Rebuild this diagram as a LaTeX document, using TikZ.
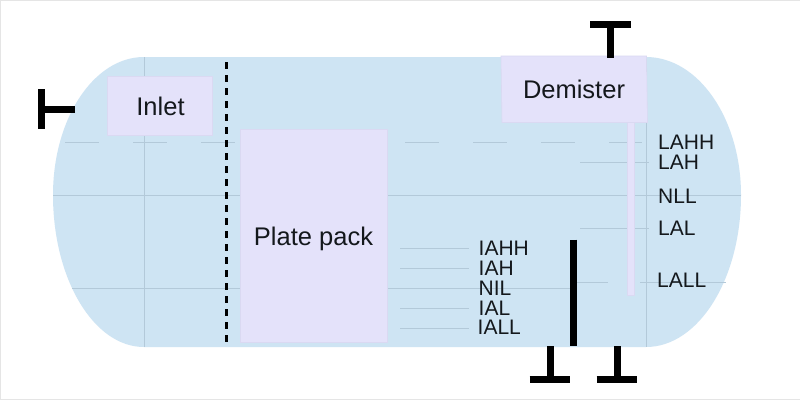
\documentclass[tikz,border=0pt]{standalone}
\usepackage{fontspec}
\setmainfont{Liberation Sans}
\definecolor{vessel}{HTML}{CEE4F3}
\definecolor{boxfill}{HTML}{E4E2FA}
\definecolor{boxedge}{HTML}{DAD9F2}
\definecolor{thin}{HTML}{B3C9D9}
\definecolor{txt}{HTML}{14181C}
\tikzset{x=1pt,y=-1pt,
 pack/.style={fill=boxfill,draw=boxedge,line width=.6pt},
 lvl/.style={draw=thin,line width=.7pt},
 pipe/.style={draw=black,line width=7pt},
 tag/.style={font=\fontsize{21}{21}\selectfont,text=txt,inner sep=0pt,anchor=base west},
 big/.style={font=\fontsize{25.5}{25.5}\selectfont,text=txt,inner sep=0pt,anchor=base}}
\begin{document}
\begin{tikzpicture}
\useasboundingbox (0,0) rectangle (800,400);
\fill[white] (0,0) rectangle (800,400);
\draw[draw=black!10,line width=.8pt] (.4,400) -- (.4,.4) -- (800,.4);
\draw[draw=black!10,line width=.8pt] (0,399.5) -- (800,399.5);
% vessel
\fill[vessel] (144,57) -- (646,57)
  .. controls (698.5,57) and (741,118.8) .. (741,195)
  .. controls (741,279) and (698.5,347) .. (646,347)
  -- (144,347)
  .. controls (93.7,347) and (53,279) .. (53,195)
  .. controls (53,118.8) and (93.7,57) .. (144,57) -- cycle;
% level lines
\coordinate (vtl) at (144.5,57); \coordinate (vbl) at (144.5,347);
\coordinate (vtr) at (646.5,57); \coordinate (vbr) at (646.5,347);
\draw[lvl] (vtl) -- (vbl);
\draw[lvl] (vtr) -- (vbr);
\coordinate (nll1) at (53,195.5); \coordinate (nll2) at (741,195.5);
\draw[lvl] (nll1) -- (nll2);
\coordinate (lahh1) at (65,142); \coordinate (lahh2) at (642,142);
\draw[lvl,dash pattern=on 34pt off 34pt] (lahh1) -- (lahh2);
\coordinate (nil1) at (72,288.5); \coordinate (nil2) at (570,288.5);
\draw[lvl] (nil1) -- (nil2);
\coordinate (iahh1) at (400,248); \coordinate (iahh2) at (469,248);
\coordinate (iah1) at (400,268); \coordinate (iah2) at (469,268);
\coordinate (ial1) at (400,308); \coordinate (ial2) at (469,308);
\coordinate (iall1) at (400,328); \coordinate (iall2) at (469,328);
\draw[lvl] (iahh1) -- (iahh2);
\draw[lvl] (iah1) -- (iah2);
\draw[lvl] (ial1) -- (ial2);
\draw[lvl] (iall1) -- (iall2);
\coordinate (lah1) at (580,162); \coordinate (lah2) at (649,162);
\coordinate (lal1) at (580,228); \coordinate (lal2) at (649,228);
\coordinate (a1) at (575,282.5); \coordinate (a2) at (608,282.5);
\coordinate (a3) at (640,282.5); \coordinate (a4) at (726,282.5);
\draw[lvl] (lah1) -- (lah2);
\draw[lvl] (lal1) -- (lal2);
\draw[lvl] (a1) -- (a2);
\draw[lvl] (a3) -- (a4);
% boxes
\node[pack,minimum width=105.5pt,minimum height=59pt] (inlet) at (160,105.5) {};
\node[big] at (160.5,115) {Inlet};
\node[pack,minimum width=147pt,minimum height=213pt] (plate) at (313.5,235.5) {};
\node[big] at (313.5,245.5) {Plate pack};
\node[pack,fill=boxfill,minimum width=6pt,minimum height=174pt] (rod) at (630.5,208.5) {};
\fill[boxfill,draw=boxedge,line width=.6pt] (501,56) -- (646.5,56) -- (647.5,122.5) -- (502,122.5) -- cycle;
\node[big] (dem) at (574,98) {Demister};
% labels
\node[tag] (t1) at (658,149.5) {LAHH};
\node[tag] (t2) at (658,169) {LAH};
\node[tag] (t3) at (658,203) {NLL};
\node[tag] (t4) at (658,235.5) {LAL};
\node[tag] (t5) at (657,287.5) {LALL};
\node[tag] (i1) at (478.5,255.5) {IAHH};
\node[tag] (i2) at (478.5,275.5) {IAH};
\node[tag] (i3) at (478.5,295.5) {NIL};
\node[tag] (i4) at (478.5,315.5) {IAL};
\node[tag] (i5) at (477.5,334.5) {IALL};
% dashed baffle
\coordinate (bt) at (226.5,62); \coordinate (bb) at (226.5,345);
\draw[draw=black,line width=3.5pt,dash pattern=on 6.5pt off 6.5pt] (bt) -- (bb);
% weir
\coordinate (wt) at (573.5,239.5); \coordinate (wb) at (573.5,346);
\draw[pipe] (wt) -- (wb);
% nozzles
\coordinate (n1a) at (75,109); \coordinate (n1b) at (41.7,109);
\coordinate (n1c) at (41.7,89.3); \coordinate (n1d) at (41.7,129.3);
\draw[pipe] (n1a) -- (n1b); \draw[pipe] (n1c) -- (n1d);
\coordinate (n2a) at (610.2,57.5); \coordinate (n2b) at (610.2,24.5);
\coordinate (n2c) at (590,24.5); \coordinate (n2d) at (630.5,24.5);
\draw[pipe] (n2a) -- (n2b); \draw[pipe] (n2c) -- (n2d);
\coordinate (n3a) at (550,346); \coordinate (n3b) at (550,379);
\coordinate (n3c) at (529.7,379); \coordinate (n3d) at (570.3,379);
\draw[pipe] (n3a) -- (n3b); \draw[pipe] (n3c) -- (n3d);
\coordinate (n4a) at (617,346); \coordinate (n4b) at (617,379);
\coordinate (n4c) at (596.7,379); \coordinate (n4d) at (637,379);
\draw[pipe] (n4a) -- (n4b); \draw[pipe] (n4c) -- (n4d);
\end{tikzpicture}
\end{document}
